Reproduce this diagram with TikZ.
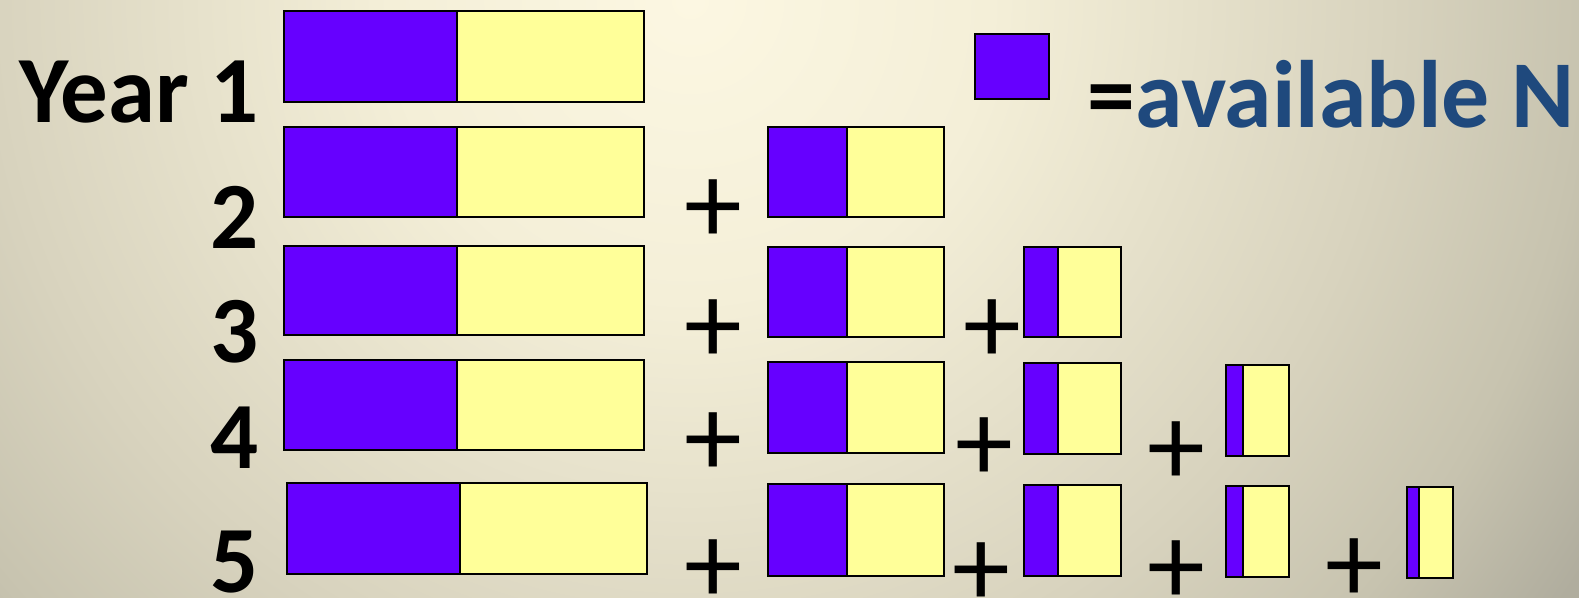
\documentclass[tikz,border=0pt]{standalone}
\usepackage{fontspec}
\setmainfont{Carlito}
\definecolor{availN}{HTML}{6600FF}
\definecolor{restN}{HTML}{FFFF99}
\definecolor{keyblue}{HTML}{1F497D}
\definecolor{bg0}{RGB}{252,247,226}
\definecolor{bg1}{RGB}{244,239,216}
\definecolor{bg2}{RGB}{216,211,190}
\definecolor{bg3}{RGB}{199,195,175}
\definecolor{bg4}{RGB}{176,173,158}
\pgfdeclareradialshading{bgglow}{\pgfpoint{0bp}{0bp}}{color(0bp)=(bg0); color(170bp)=(bg1); color(397bp)=(bg2); color(510bp)=(bg3); color(600bp)=(bg4); color(720bp)=(bg4)}
% one N bar: left x, split x, right x, top y, bottom y
\newcommand{\nbar}[5]{%
  \draw[availpart] (#1,#4) rectangle (#2,#5);
  \draw[restpart] (#2,#4) rectangle (#3,#5);}
\begin{document}
\begin{tikzpicture}[x=0.02cm, y=-0.02cm,
  availpart/.style={draw=black,line width=1pt,fill=availN},
  restpart/.style={draw=black,line width=1pt,fill=restN},
  yearlbl/.style={font=\fontsize{54}{58}\selectfont\bfseries,anchor=base east,inner sep=0pt},
  plus/.style={font=\fontsize{66}{70}\selectfont,inner sep=0pt}]
\useasboundingbox (0,0) rectangle (1579,598);
\begin{scope}
\clip (0,0) rectangle (1579,598);
\node[inner sep=0pt] (glow) at (690,0) {\pgfuseshading{bgglow}};
\end{scope}
% year labels
\node[yearlbl] (yr1) at (259,123) {Year 1};
\node[yearlbl] (yr2) at (259,248) {2};
\node[yearlbl] (yr3) at (259,362) {3};
\node[yearlbl] (yr4) at (259,468) {4};
\node[yearlbl] (yr5) at (259,592) {5};
% key
\draw[availpart] (975,34) rectangle (1049,99);
\node[font=\fontsize{54.5}{58}\selectfont\bfseries,anchor=base west,inner sep=0pt] (key) at (1087,128) {=\textcolor{keyblue}{available N}};
% bars
\nbar{284}{457}{644}{11}{102}
\nbar{284}{457}{644}{127}{217}
\nbar{768}{847}{944}{127}{217}
\nbar{284}{457}{644}{246}{335}
\nbar{768}{847}{944}{247}{337}
\nbar{1024}{1058}{1121}{247}{337}
\nbar{284}{457}{644}{360}{450}
\nbar{768}{847}{944}{362}{453}
\nbar{1024}{1058}{1121}{363}{454}
\nbar{1226}{1243}{1289}{365}{456}
\nbar{287}{460}{647}{483}{574}
\nbar{768}{847}{944}{484}{576}
\nbar{1024}{1058}{1121}{485}{576}
\nbar{1226}{1243}{1289}{486}{577}
\nbar{1407}{1419}{1453}{487}{578}
% plus signs
\node[plus] (p2a) at (713,212) {+};
\node[plus] (p3a) at (713,332) {+};
\node[plus] (p3b) at (992,332) {+};
\node[plus] (p4a) at (713,445) {+};
\node[plus] (p4b) at (984,450) {+};
\node[plus] (p4c) at (1176,454) {+};
\node[plus] (p5a) at (713,572) {+};
\node[plus] (p5b) at (981,575) {+};
\node[plus] (p5c) at (1176,573) {+};
\node[plus] (p5d) at (1354,571) {+};
\end{tikzpicture}
\end{document}
